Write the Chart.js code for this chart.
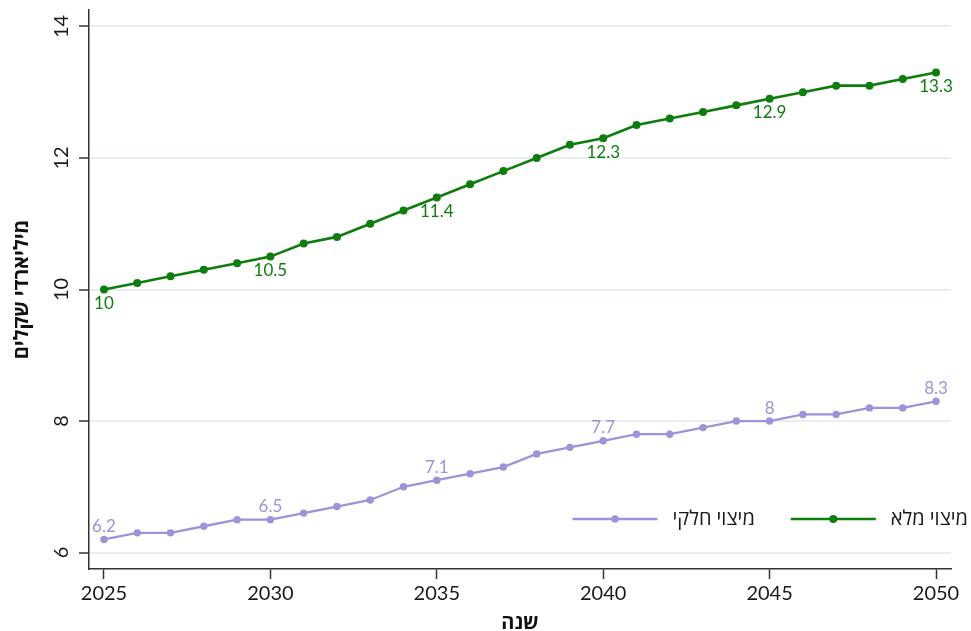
<!DOCTYPE html>
<html>
<head>
<meta charset="utf-8">
<script src="https://cdn.jsdelivr.net/npm/chart.js@4"></script>
<style>
  html, body { margin: 0; padding: 0; background: #fff; }
</style>
</head>
<body>
<canvas id="chart" width="971" height="631"></canvas>
<script>
const years = [2025, 2026, 2027, 2028, 2029, 2030, 2031, 2032, 2033, 2034, 2035, 2036, 2037,
  2038, 2039, 2040, 2041, 2042, 2043, 2044, 2045, 2046, 2047, 2048, 2049, 2050];
const fullValues = [10, 10.1, 10.2, 10.3, 10.4, 10.5, 10.7, 10.8, 11.0, 11.2, 11.4, 11.6, 11.8,
  12.0, 12.2, 12.3, 12.5, 12.6, 12.7, 12.8, 12.9, 13.0, 13.1, 13.1, 13.2, 13.3];
const partialValues = [6.2, 6.3, 6.3, 6.4, 6.5, 6.5, 6.6, 6.7, 6.8, 7.0, 7.1, 7.2, 7.3,
  7.5, 7.6, 7.7, 7.8, 7.8, 7.9, 8.0, 8.0, 8.1, 8.1, 8.2, 8.2, 8.3];
const yTicks = [6, 8, 10, 12, 14];
const xTicks = [2025, 2030, 2035, 2040, 2045, 2050];
const labelYears = [2025, 2030, 2035, 2040, 2045, 2050];
const seriesNames = ['מיצוי מלא', 'מיצוי חלקי'];

const GREEN = '#0d7d0d';
const PURPLE = '#9d93d8';
const FONT = 'Lato, "Open Sans", "DejaVu Sans", sans-serif';

Chart.defaults.font.family = FONT;
Chart.defaults.color = '#1a1a1a';

const toPoints = vals => vals.map((v, i) => ({ x: years[i], y: v }));

// numbers next to every fifth year
const valueLabels = {
  id: 'valueLabels',
  afterDatasetsDraw(chart) {
    const ctx = chart.ctx;
    ctx.save();
    ctx.font = '17px ' + FONT;
    ctx.textAlign = 'center';
    ctx.textBaseline = 'middle';
    chart.data.datasets.forEach((ds, di) => {
      const meta = chart.getDatasetMeta(di);
      ds.data.forEach((p, i) => {
        if (!labelYears.includes(p.x)) return;
        const el = meta.data[i];
        ctx.fillStyle = ds.borderColor;
        const dy = di === 0 ? 14 : -13;
        ctx.fillText(String(p.y), el.x, el.y + dy);
      });
    });
    ctx.restore();
  }
};

// legend inside the plot, bottom right
const insideLegend = {
  id: 'insideLegend',
  afterDraw(chart) {
    const ctx = chart.ctx;
    const area = chart.chartArea;
    const y = area.bottom - 50;
    let right = area.right + 17;
    ctx.save();
    ctx.font = '20px ' + FONT;
    ctx.textBaseline = 'middle';
    ctx.textAlign = 'right';
    chart.data.datasets.forEach(ds => {
      const w = ctx.measureText(ds.label).width;
      ctx.fillStyle = '#1a1a1a';
      ctx.fillText(ds.label, right, y);
      const lineEnd = right - w - 15;
      const lineStart = lineEnd - 85;
      ctx.strokeStyle = ds.borderColor;
      ctx.lineWidth = ds.borderWidth;
      ctx.beginPath();
      ctx.moveTo(lineStart, y);
      ctx.lineTo(lineEnd, y);
      ctx.stroke();
      ctx.fillStyle = ds.borderColor;
      ctx.beginPath();
      ctx.arc((lineStart + lineEnd) / 2, y, ds.pointRadius, 0, Math.PI * 2);
      ctx.fill();
      right = lineStart - 36;
    });
    ctx.restore();
  }
};

new Chart(document.getElementById('chart'), {
  type: 'line',
  data: {
    datasets: [{
      label: seriesNames[0],
      data: toPoints(fullValues),
      borderColor: GREEN,
      backgroundColor: GREEN,
      borderWidth: 2.6,
      pointRadius: 4,
      pointBackgroundColor: GREEN,
      pointBorderWidth: 0,
      tension: 0
    }, {
      label: seriesNames[1],
      data: toPoints(partialValues),
      borderColor: PURPLE,
      backgroundColor: PURPLE,
      borderWidth: 2.3,
      pointRadius: 3.7,
      pointBackgroundColor: PURPLE,
      pointBorderWidth: 0,
      tension: 0
    }]
  },
  options: {
    responsive: false,
    animation: false,
    layout: { padding: { left: 0, top: 10, right: 20, bottom: 0 } },
    plugins: {
      legend: { display: false },
      tooltip: { enabled: false }
    },
    scales: {
      x: {
        type: 'linear',
        min: 2024.55,
        max: 2050.45,
        afterBuildTicks: s => { s.ticks = xTicks.map(v => ({ value: v })); },
        afterFit: s => { s.height = 62; },
        grid: {
          drawOnChartArea: false,
          drawTicks: true,
          tickLength: 10,
          tickColor: '#333',
          tickWidth: 1.5
        },
        border: { color: '#333', width: 1.5 },
        ticks: {
          font: { size: 20 },
          color: '#1a1a1a',
          padding: 3,
          maxRotation: 0,
          callback: v => String(v)
        },
        title: {
          display: true,
          text: 'שנה',
          font: { size: 20, weight: 'bold', lineHeight: 0.8 },
          color: '#111',
          padding: { top: 0, bottom: 0 }
        }
      },
      y: {
        min: 5.75,
        max: 14.25,
        afterBuildTicks: s => { s.ticks = yTicks.map(v => ({ value: v })); },
        afterFit: s => {
          s.width = 89;
          s.paddingTop = 0;
          s.paddingBottom = 0;
        },
        grid: {
          color: '#e6eef0',
          lineWidth: 2,
          drawTicks: true,
          tickLength: 10,
          tickColor: '#333',
          tickWidth: 1.5
        },
        border: { color: '#333', width: 1.5 },
        ticks: {
          font: { size: 20 },
          color: '#1a1a1a',
          padding: 6,
          minRotation: 90,
          maxRotation: 90,
          crossAlign: 'center'
        },
        title: {
          display: true,
          text: 'מיליארדי שקלים',
          font: { size: 20, weight: 'bold', lineHeight: 1.2 },
          color: '#111',
          padding: { top: 10, bottom: 0 }
        }
      }
    }
  },
  plugins: [valueLabels, insideLegend]
});
</script>
</body>
</html>
